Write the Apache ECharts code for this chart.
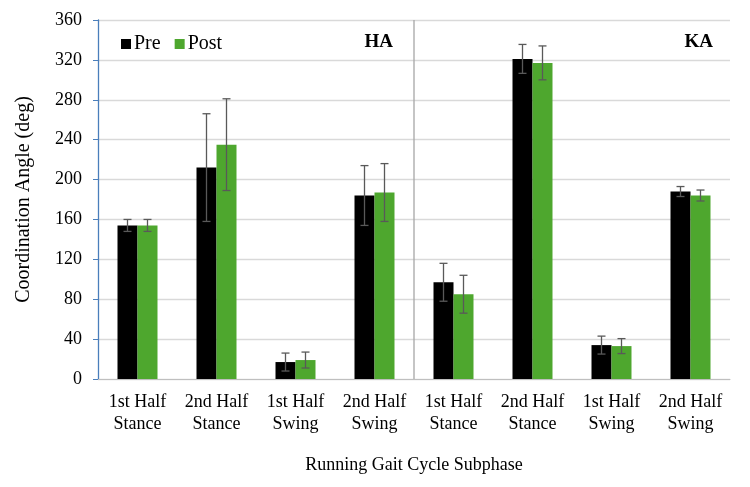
<!DOCTYPE html>
<html>
<head>
<meta charset="utf-8">
<script src="https://cdn.jsdelivr.net/npm/echarts@6/dist/echarts.min.js"></script>
<style>
  html, body { margin: 0; padding: 0; background: #fff; }
  #main { width: 750px; height: 487px; }
</style>
</head>
<body>
<div id="main"></div>
<script>
var categories = ['1st Half\nStance', '2nd Half\nStance', '1st Half\nSwing', '2nd Half\nSwing',
                  '1st Half\nStance', '2nd Half\nStance', '1st Half\nSwing', '2nd Half\nSwing'];
var preMean = [154, 212, 17, 184, 97, 321, 34, 188];
var preSd = [6, 54, 9, 30, 19, 14.5, 9, 5];
var postMean = [154, 235, 19, 187, 85, 317, 33, 184];
var postSd = [6, 46, 8, 29, 19, 17, 7.5, 5.5];
var yTicks = { min: 0, max: 360, interval: 40 };

var FONT = '"Liberation Serif", "Times New Roman", serif';
var BAR_W = 20;

function errData(mean, sd) {
  return mean.map(function (m, i) { return [i, m - sd[i], m + sd[i]]; });
}

function errRender(offset) {
  return function (params, api) {
    var x = api.value(0);
    var lo = api.coord([x, api.value(1)]);
    var hi = api.coord([x, api.value(2)]);
    var cx = lo[0] + offset;
    var cap = 4;
    var st = { stroke: '#595959', lineWidth: 1.3 };
    return {
      type: 'group',
      children: [
        { type: 'line', shape: { x1: cx, y1: lo[1], x2: cx, y2: hi[1] }, style: st },
        { type: 'line', shape: { x1: cx - cap, y1: lo[1], x2: cx + cap, y2: lo[1] }, style: st },
        { type: 'line', shape: { x1: cx - cap, y1: hi[1], x2: cx + cap, y2: hi[1] }, style: st }
      ]
    };
  };
}

var chart = echarts.init(document.getElementById('main'));
chart.setOption({
  animation: false,
  backgroundColor: '#fff',
  grid: { left: 98, right: 20, top: 20, bottom: 108 },
  legend: {
    left: 116, top: 29,
    itemWidth: 10, itemHeight: 10, itemGap: 14,
    icon: 'rect',
    data: ['Pre', 'Post'],
    textStyle: { fontFamily: FONT, fontSize: 20, color: '#000', padding: [0, 0, 0, -2] }
  },
  xAxis: {
    type: 'category',
    data: categories,
    name: 'Running Gait Cycle Subphase',
    nameLocation: 'middle',
    nameGap: 77,
    nameTextStyle: { fontFamily: FONT, fontSize: 18, color: '#000' },
    axisLine: { lineStyle: { color: '#bfbfbf', width: 1 } },
    axisTick: { show: false },
    axisLabel: { fontFamily: FONT, fontSize: 18, color: '#000', lineHeight: 22, margin: 12, interval: 0 }
  },
  yAxis: {
    type: 'value',
    min: yTicks.min, max: yTicks.max, interval: yTicks.interval,
    name: 'Coordination Angle (deg)',
    nameLocation: 'middle',
    nameGap: 64,
    nameTextStyle: { fontFamily: FONT, fontSize: 20, color: '#000' },
    axisLine: { show: true, lineStyle: { color: '#4a7ebb', width: 1.3 } },
    axisTick: { show: true, length: 5, lineStyle: { color: '#4a7ebb' } },
    axisLabel: { fontFamily: FONT, fontSize: 18, color: '#000', margin: 16 },
    splitLine: { lineStyle: { color: '#d9d9d9', width: 1.3 } }
  },
  graphic: [
    { type: 'text', right: 357, top: 33, style: { text: 'HA', font: 'bold 19px ' + FONT, fill: '#000' } },
    { type: 'text', right: 37, top: 33, style: { text: 'KA', font: 'bold 19px ' + FONT, fill: '#000' } }
  ],
  series: [
    { name: 'Pre', type: 'bar', data: preMean, barWidth: BAR_W, barGap: '0%', itemStyle: { color: '#000' } },
    { name: 'Post', type: 'bar', data: postMean, barWidth: BAR_W, barGap: '0%', itemStyle: { color: '#4ea72e' } },
    { type: 'custom', data: errData(preMean, preSd), renderItem: errRender(-BAR_W / 2), z: 5, silent: true },
    { type: 'custom', data: errData(postMean, postSd), renderItem: errRender(BAR_W / 2), z: 5, silent: true },
    {
      type: 'custom', z: 1, silent: true,
      data: [[3, yTicks.min, yTicks.max]],
      renderItem: function (params, api) {
        var a = api.coord([api.value(0), api.value(1)]);
        var b = api.coord([api.value(0), api.value(2)]);
        var half = api.size([1, 0])[0] / 2;
        return { type: 'line', shape: { x1: a[0] + half, y1: a[1], x2: b[0] + half, y2: b[1] },
                 style: { stroke: '#a6a6a6', lineWidth: 1.3 } };
      }
    }
  ]
});
</script>
</body>
</html>
